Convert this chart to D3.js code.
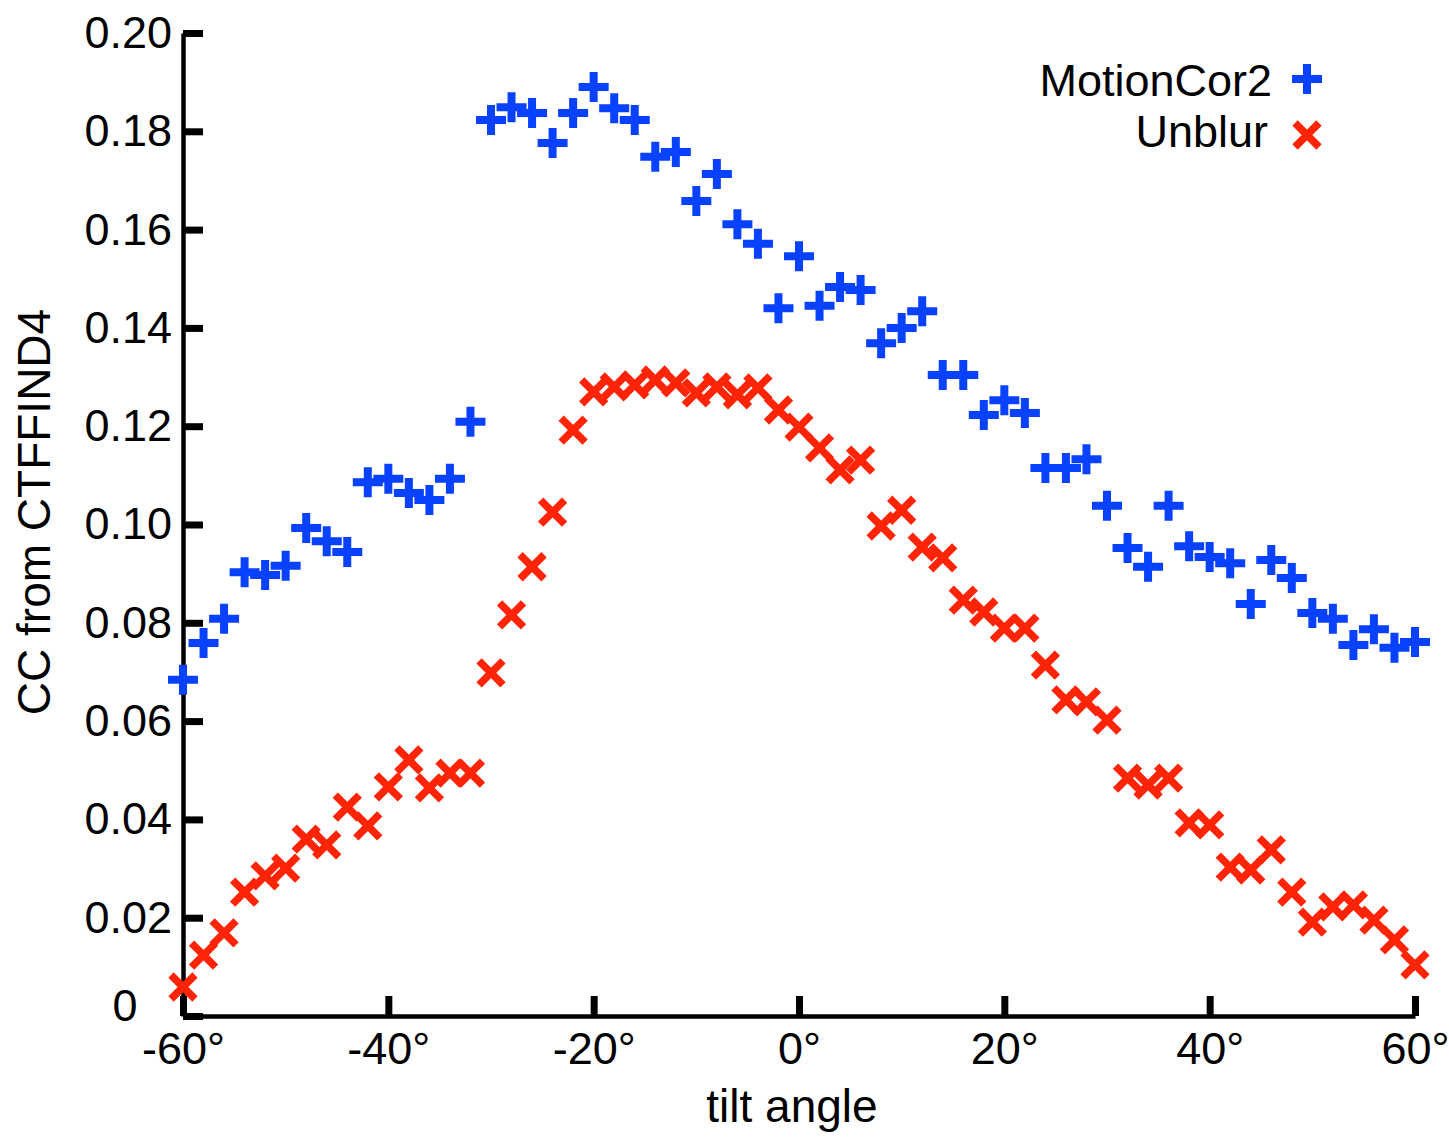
<!DOCTYPE html>
<html>
<head>
<meta charset="utf-8">
<script src="https://cdn.jsdelivr.net/npm/d3@7"></script>
<style>
  body { margin: 0; background: #fff; }
  text { font-family: "Liberation Sans", Arial, sans-serif; fill: #000; }
</style>
</head>
<body>
<script>
// tilt angles (degrees)
var angles = [-60,-58,-56,-54,-52,-50,-48,-46,-44,-42,-40,-38,-36,-34,-32,-30,-28,-26,-24,-22,
              -20,-18,-16,-14,-12,-10,-8,-6,-4,-2,0,2,4,6,8,10,12,14,16,18,
              20,22,24,26,28,30,32,34,36,38,40,42,44,46,48,50,52,54,56,58,60];

// CC values
var motionCor2 = [0.0684,0.0759,0.0808,0.0903,0.0897,0.0916,0.0993,0.0966,0.0944,0.1086,
                  0.1093,0.1064,0.1050,0.1093,0.1209,0.1823,0.1849,0.1837,0.1776,0.1837,
                  0.1890,0.1847,0.1823,0.1748,0.1758,0.1658,0.1713,0.1611,0.1571,0.1440,
                  0.1546,0.1445,0.1483,0.1477,0.1369,0.1400,0.1434,0.1304,0.1304,0.1223,
                  0.1253,0.1227,0.1115,0.1115,0.1133,0.1038,0.0952,0.0914,0.1038,0.0956,
                  0.0934,0.0921,0.0838,0.0928,0.0891,0.0820,0.0808,0.0755,0.0787,0.0749,0.0761];

var unblur = [0.0059,0.0124,0.0169,0.0252,0.0285,0.0301,0.0360,0.0348,0.0425,0.0387,
              0.0466,0.0521,0.0464,0.0494,0.0494,0.0698,0.0816,0.0914,0.1025,0.1192,
              0.1270,0.1280,0.1284,0.1294,0.1288,0.1268,0.1280,0.1264,0.1278,0.1233,
              0.1198,0.1156,0.1111,0.1131,0.0997,0.1029,0.0954,0.0932,0.0846,0.0822,
              0.0789,0.0789,0.0714,0.0643,0.0639,0.0602,0.0484,0.0470,0.0484,0.0393,
              0.0389,0.0303,0.0297,0.0338,0.0252,0.0191,0.0222,0.0226,0.0195,0.0155,0.0104];

var xTicks = [-60,-40,-20,0,20,40,60];
var yTicks = [0,0.02,0.04,0.06,0.08,0.10,0.12,0.14,0.16,0.18,0.20];
var seriesNames = ["MotionCor2","Unblur"];

var blue = "#0842ff", red = "#ff2406";

var svg = d3.select("body").append("svg").attr("width", 1449).attr("height", 1137);

var x = d3.scaleLinear().domain([-60, 60]).range([183, 1415]);
var y = d3.scaleLinear().domain([0, 0.2]).range([1016, 33]);

// axes, ticks point inward
var xAxis = svg.append("g")
    .attr("transform", "translate(0," + y(0) + ")")
    .call(d3.axisBottom(x).tickValues(xTicks).tickSizeInner(-20).tickSizeOuter(0).tickPadding(16)
        .tickFormat(function(d){ return d + "°"; }));

var yAxis = svg.append("g")
    .attr("transform", "translate(" + x(-60) + ",0)")
    .call(d3.axisLeft(y).tickValues(yTicks).tickSizeInner(-20).tickSizeOuter(0).tickPadding(11)
        .tickFormat(function(d){ return d === 0 ? "0" : d3.format(".2f")(d); }));

[xAxis, yAxis].forEach(function(g){
    g.select(".domain").attr("stroke", "#000").attr("stroke-width", 4.5);
    g.selectAll(".tick line").attr("stroke", "#000").attr("stroke-width", 7);
    g.selectAll(".tick text").attr("font-size", 45).attr("font-family", "Liberation Sans, Arial, sans-serif").attr("fill", "#000");
});
// the 0 label is centred under the other labels and sits a bit above its tick
yAxis.selectAll(".tick text").filter(function(d){ return d === 0; })
    .attr("x", -58).attr("y", -10).attr("text-anchor", "middle");

// marker shapes
var plusPath = "M-15,0H15M0,-15V15";
var crossPath = "M-12,-12L12,12M12,-12L-12,12";

svg.append("g").selectAll("path")
    .data(angles.map(function(a, i){ return [a, motionCor2[i]]; }))
    .enter().append("path")
    .attr("d", plusPath)
    .attr("transform", function(d){ return "translate(" + x(d[0]) + "," + y(d[1]) + ")"; })
    .attr("stroke", blue).attr("stroke-width", 8).attr("fill", "none");

svg.append("g").selectAll("path")
    .data(angles.map(function(a, i){ return [a, unblur[i]]; }))
    .enter().append("path")
    .attr("d", crossPath)
    .attr("transform", function(d){ return "translate(" + x(d[0]) + "," + y(d[1]) + ")"; })
    .attr("stroke", red).attr("stroke-width", 7.5).attr("fill", "none");

// axis titles
svg.append("text")
    .attr("x", 792).attr("y", 1122)
    .attr("font-size", 46)
    .style("text-anchor", "middle")
    .text("tilt angle");

svg.append("text")
    .attr("transform", "translate(50,512) rotate(-90)")
    .attr("font-size", 46)
    .style("text-anchor", "middle")
    .text("CC from CTFFIND4");

// legend
var legend = svg.append("g");
legend.append("text").attr("x", 1272).attr("y", 96).attr("font-size", 45)
    .style("text-anchor", "end").text(seriesNames[0]);
legend.append("path").attr("d", plusPath).attr("transform", "translate(1307,79)")
    .attr("stroke", blue).attr("stroke-width", 8).attr("fill", "none");
legend.append("text").attr("x", 1268).attr("y", 147).attr("font-size", 45)
    .style("text-anchor", "end").text(seriesNames[1]);
legend.append("path").attr("d", crossPath).attr("transform", "translate(1307,135)")
    .attr("stroke", red).attr("stroke-width", 7.5).attr("fill", "none");
</script>
</body>
</html>
